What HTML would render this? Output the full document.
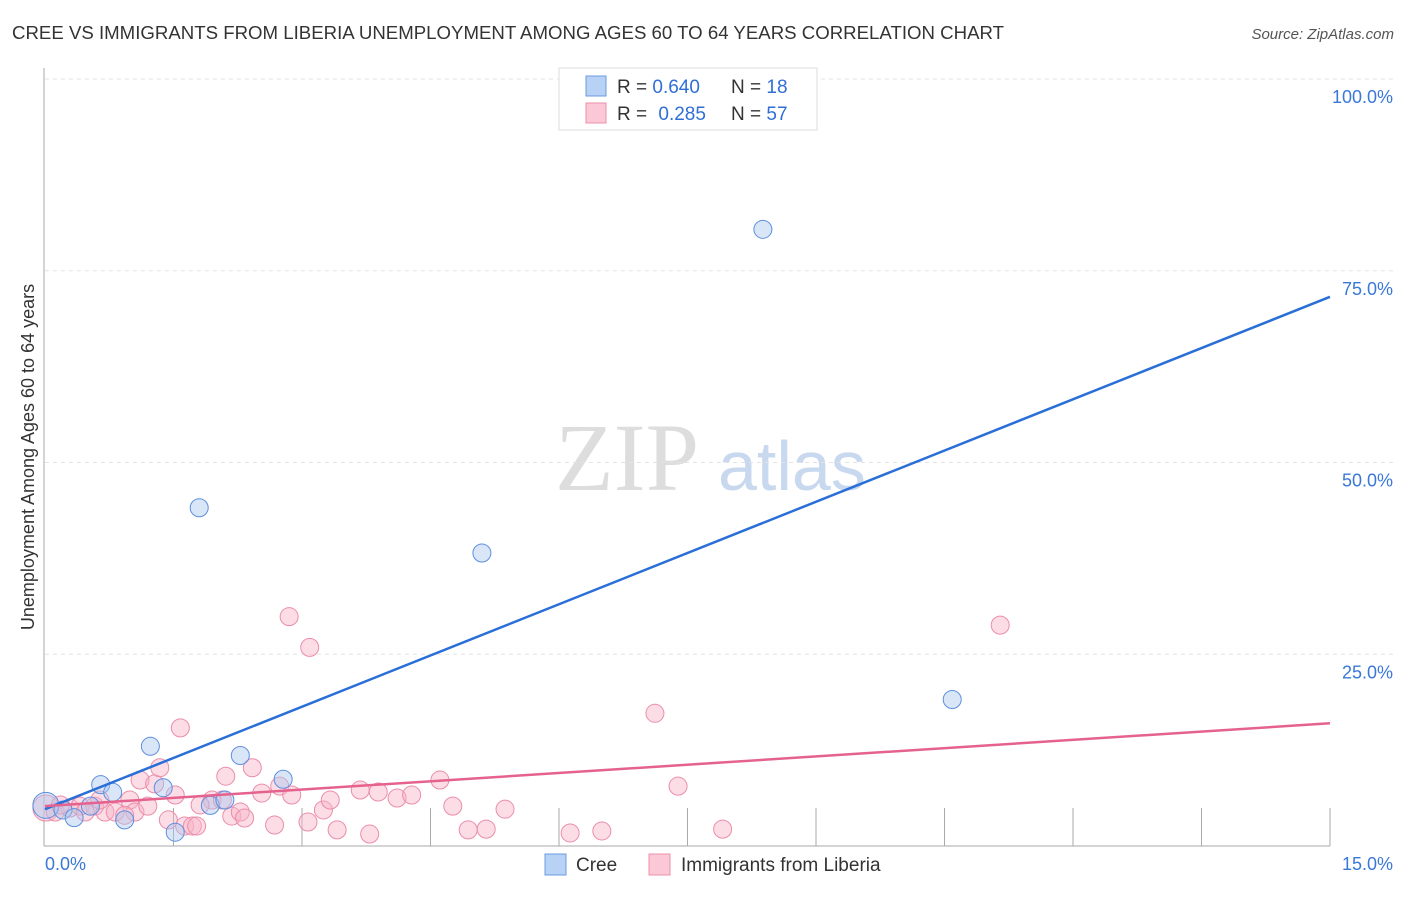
<!DOCTYPE html>
<html><head><meta charset="utf-8"><style>
body{margin:0;background:#fff;font-family:"Liberation Sans",sans-serif;}
</style></head><body>
<svg id="chart" width="1406" height="892" xmlns="http://www.w3.org/2000/svg">
<text x="12" y="39" font-size="18" fill="#333" textLength="992" lengthAdjust="spacingAndGlyphs">CREE VS IMMIGRANTS FROM LIBERIA UNEMPLOYMENT AMONG AGES 60 TO 64 YEARS CORRELATION CHART</text>
<text x="1394" y="39" font-size="15" fill="#555" font-style="italic" text-anchor="end">Source: ZipAtlas.com</text>
<text x="555" y="490" font-size="96" fill="#ddd" font-family="Liberation Serif,serif">ZIP</text>
<text x="718" y="490" font-size="70" fill="#c8d8ef">atlas</text>
<text transform="translate(34,457) rotate(-90)" font-size="18" fill="#333" text-anchor="middle">Unemployment Among Ages 60 to 64 years</text>
<g id="grid"></g><g id="marks"></g>
<g>
<rect x="559" y="68" width="258" height="62" fill="#fff" stroke="#ddd"/>
<rect x="586" y="76" width="20" height="20" fill="#b8d2f5" stroke="#6a9be0"/>
<rect x="586" y="103" width="20" height="20" fill="#fbc8d6" stroke="#ec8fab"/>
<text x="617" y="93" font-size="19" fill="#333">R = <tspan fill="#2f6fd6">0.640</tspan><tspan x="731">N = </tspan><tspan fill="#2f6fd6">18</tspan></text>
<text x="617" y="120" font-size="19" fill="#333">R = <tspan fill="#2f6fd6" dx="6">0.285</tspan><tspan x="731">N = </tspan><tspan fill="#2f6fd6">57</tspan></text>
</g>
<g>
<rect x="545" y="854" width="21" height="21" fill="#b8d2f5" stroke="#6a9be0"/>
<text x="576" y="871" font-size="19" fill="#333">Cree</text>
<rect x="649" y="854" width="21" height="21" fill="#fbc8d6" stroke="#ec8fab"/>
<text x="681" y="871" font-size="19" fill="#333">Immigrants from Liberia</text>
</g>
</svg>
<script>
const yTicks=[25,50,75,100];
const yTickLabels=["25.0%","50.0%","75.0%","100.0%"];
const xEnds=["0.0%","15.0%"];
const creeX=[0.01,0.21,0.34,0.53,0.65,0.79,0.93,1.23,1.38,1.52,1.80,1.93,2.10,2.28,2.78,5.10,8.38,10.59];
const creeY=[5.3,4.7,3.7,5.2,8.0,7.0,3.4,13.0,7.6,1.8,44.1,5.3,6.0,11.8,8.7,38.2,80.4,19.1];
const libX=[0.01,0.12,0.29,0.41,0.58,0.70,0.82,0.99,1.05,1.11,1.20,1.28,1.34,1.44,1.52,1.58,1.63,1.72,1.77,1.95,2.07,2.11,2.18,2.28,2.33,2.42,2.53,2.68,2.74,2.85,2.88,3.07,3.09,3.25,3.33,3.41,3.68,3.79,3.89,4.11,4.28,4.61,4.76,4.94,5.15,5.37,6.13,6.50,7.12,7.39,7.91,11.15,0.18,0.47,0.64,0.93,1.81];
const libY=[4.95,4.43,4.95,5.2,5.2,4.43,4.43,6.0,4.43,8.6,5.2,8.1,10.2,3.4,6.65,15.4,2.6,2.6,2.6,6.0,6.0,9.1,3.9,4.43,3.65,10.2,6.9,2.74,7.8,29.9,6.65,3.13,25.9,4.7,6.0,2.1,7.3,1.56,7.04,6.26,6.65,8.6,5.2,2.1,2.2,4.8,1.7,1.96,17.3,7.8,2.2,28.8,5.35,4.43,6.0,4.0,5.35];
const creeTrend=[4.8,71.6];
const libTrend=[5.2,16.0];
const ns="http://www.w3.org/2000/svg";
const X=v=>45+v/15*1285, Y=v=>846-v*7.67;
function mk(t,a,p){const e=document.createElementNS(ns,t);for(const k in a)e.setAttribute(k,a[k]);p.appendChild(e);return e;}
const grid=document.getElementById('grid'),marks=document.getElementById('marks');
yTicks.forEach((t,i)=>{
 const l=mk('line',{x1:45,x2:1394,y1:Y(t),y2:Y(t),stroke:'#e3e3e3','stroke-dasharray':'4,4'},grid);
 
 
 const tx=mk('text',{x:1393,y:Y(t)+24,'font-size':18,fill:'#3a78d8','text-anchor':'end'},grid);
 tx.textContent=yTickLabels[i];
 
 
});
const topGrid=mk('line',{x1:45,x2:1394,y1:79,y2:79,stroke:'#e3e3e3','stroke-dasharray':'4,4'},grid);


const yAxis=mk('line',{x1:44,x2:44,y1:68,y2:846,stroke:'#aaa'},grid);


const xAxis=mk('line',{x1:44,x2:1330,y1:846,y2:846,stroke:'#aaa'},grid);


for(let i=1;i<=10;i++){const t=mk('line',{x1:X(i*1.5),x2:X(i*1.5),y1:808,y2:846,stroke:'#aaa'},grid);
 
 }
const xl0=mk('text',{x:45,y:870,'font-size':18,fill:'#3a78d8'},grid);xl0.textContent=xEnds[0];


const xl1=mk('text',{x:1393,y:870,'font-size':18,fill:'#3a78d8','text-anchor':'end'},grid);xl1.textContent=xEnds[1];


libX.forEach((x,i)=>{const c=mk('circle',{cx:X(x),cy:Y(libY[i]),r:i==0?13:9,fill:'rgba(248,180,200,0.45)',stroke:'#eb8dab','stroke-width':1},marks);
 
 });
creeX.forEach((x,i)=>{const c=mk('circle',{cx:X(x),cy:Y(creeY[i]),r:i==0?13:9,fill:'rgba(170,200,240,0.45)',stroke:'#5d8fde','stroke-width':1},marks);
 
 });
const t1=mk('line',{x1:X(0),y1:Y(creeTrend[0]),x2:X(15),y2:Y(creeTrend[1]),stroke:'#2a6fd8','stroke-width':2.5},marks);


const t2=mk('line',{x1:X(0),y1:Y(libTrend[0]),x2:X(15),y2:Y(libTrend[1]),stroke:'#e5628e','stroke-width':2.5},marks);


</script>
</body></html>
